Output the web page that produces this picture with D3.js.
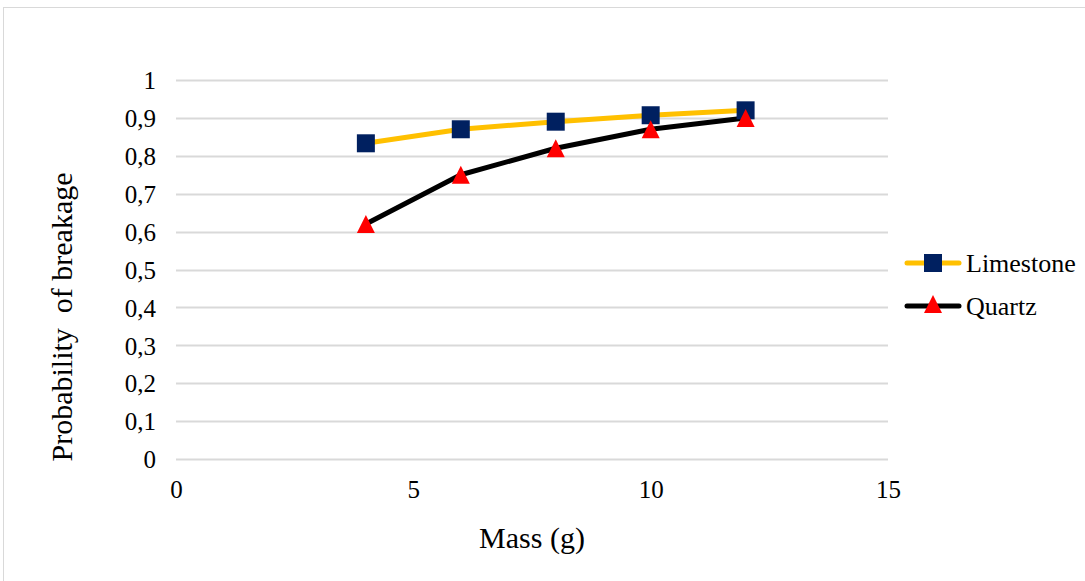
<!DOCTYPE html>
<html>
<head>
<meta charset="utf-8">
<script src="https://cdn.jsdelivr.net/npm/d3@7"></script>
<style>
  html, body { margin: 0; padding: 0; background: #fff; }
  svg { display: block; }
  text { font-family: "Liberation Serif", "Times New Roman", serif; fill: #000; }
</style>
</head>
<body>
<div id="chart"></div>
<script>
// Breakage probability versus particle mass
const masses = [4, 6, 8, 10, 12];
const limestone = [0.833, 0.87, 0.89, 0.907, 0.92];
const quartz = [0.62, 0.75, 0.82, 0.87, 0.90];
const xTicks = [0, 5, 10, 15];
const yTicks = [0, 0.1, 0.2, 0.3, 0.4, 0.5, 0.6, 0.7, 0.8, 0.9, 1];
const seriesNames = ["Limestone", "Quartz"];

const W = 1085, H = 581;
const svg = d3.select("#chart").append("svg").attr("width", W).attr("height", H);

// outer chart frame
svg.append("rect")
  .attr("x", 3.5).attr("y", 7.5).attr("width", 1100).attr("height", 600)
  .attr("fill", "none").attr("stroke", "#d9d9d9").attr("stroke-width", 1);

const x = d3.scaleLinear().domain([0, 15]).range([176, 888]);
const y = d3.scaleLinear().domain([0, 1]).range([459, 80]);

// horizontal gridlines
svg.append("g").selectAll("line").data(yTicks).join("line")
  .attr("x1", x(0)).attr("x2", x(15))
  .attr("y1", d => Math.round(y(d)) + 0.5).attr("y2", d => Math.round(y(d)) + 0.5)
  .attr("stroke", "#d9d9d9").attr("stroke-width", 2);

const fmt = d => d3.format("~g")(d).replace(".", ",");

// y axis labels
const yAxis = d3.axisLeft(y).tickValues(yTicks).tickFormat(fmt).tickSize(0).tickPadding(0);
const gy = svg.append("g").attr("transform", "translate(156,0)").call(yAxis);
gy.select(".domain").remove();
gy.selectAll("text").attr("font-size", 25).attr("fill", "#000").attr("dy", "0.35em");

// x axis labels
const xAxis = d3.axisBottom(x).tickValues(xTicks).tickFormat(fmt).tickSize(0).tickPadding(0);
const gx = svg.append("g").attr("transform", "translate(0,480)").call(xAxis);
gx.select(".domain").remove();
gx.selectAll("text").attr("font-size", 25).attr("fill", "#000").attr("dy", "0.71em");

// axis titles
svg.append("text").attr("x", 532).attr("y", 548).attr("text-anchor", "middle")
  .attr("font-size", 30).text("Mass (g)");
svg.append("text").attr("transform", "translate(72,317) rotate(-90)")
  .attr("text-anchor", "middle").attr("font-size", 30)
  .style("white-space", "pre").text("Probability  of breakage");

const line = d3.line().x(d => x(d[0])).y(d => y(d[1]));
const limeData = masses.map((m, i) => [m, limestone[i]]);
const quartzData = masses.map((m, i) => [m, quartz[i]]);

const limeColor = "#ffc000", squareColor = "#002060";
const quartzColor = "#000000", triColor = "#ff0000";

svg.append("path").datum(limeData).attr("d", line)
  .attr("fill", "none").attr("stroke", limeColor).attr("stroke-width", 5).attr("stroke-linejoin", "round");
svg.append("path").datum(quartzData).attr("d", line)
  .attr("fill", "none").attr("stroke", quartzColor).attr("stroke-width", 5).attr("stroke-linejoin", "round");

const sq = d3.symbol().type(d3.symbolSquare).size(18 * 18);
const tri = (cx, cy, s) => `M${cx},${cy - s / 2}L${cx + s / 2},${cy + s / 2}L${cx - s / 2},${cy + s / 2}Z`;

svg.append("g").selectAll("path").data(limeData).join("path")
  .attr("d", sq).attr("transform", d => `translate(${x(d[0])},${y(d[1])})`)
  .attr("fill", squareColor);
svg.append("g").selectAll("path").data(quartzData).join("path")
  .attr("d", d => tri(x(d[0]), y(d[1]), 18))
  .attr("fill", triColor);

// legend
const legend = svg.append("g");
const items = [
  { name: seriesNames[0], color: limeColor, marker: "sq", y: 263 },
  { name: seriesNames[1], color: quartzColor, marker: "tri", y: 306 }
];
items.forEach(it => {
  legend.append("line").attr("x1", 907).attr("x2", 959).attr("y1", it.y).attr("y2", it.y)
    .attr("stroke", it.color).attr("stroke-width", 5).attr("stroke-linecap", "round");
  if (it.marker === "sq") {
    legend.append("path").attr("d", sq).attr("transform", `translate(933,${it.y})`).attr("fill", squareColor);
  } else {
    legend.append("path").attr("d", tri(933, it.y - 2, 18)).attr("fill", triColor);
  }
  legend.append("text").attr("x", 966).attr("y", it.y).attr("dy", "0.35em")
    .attr("font-size", 26).text(it.name);
});
</script>
</body>
</html>
